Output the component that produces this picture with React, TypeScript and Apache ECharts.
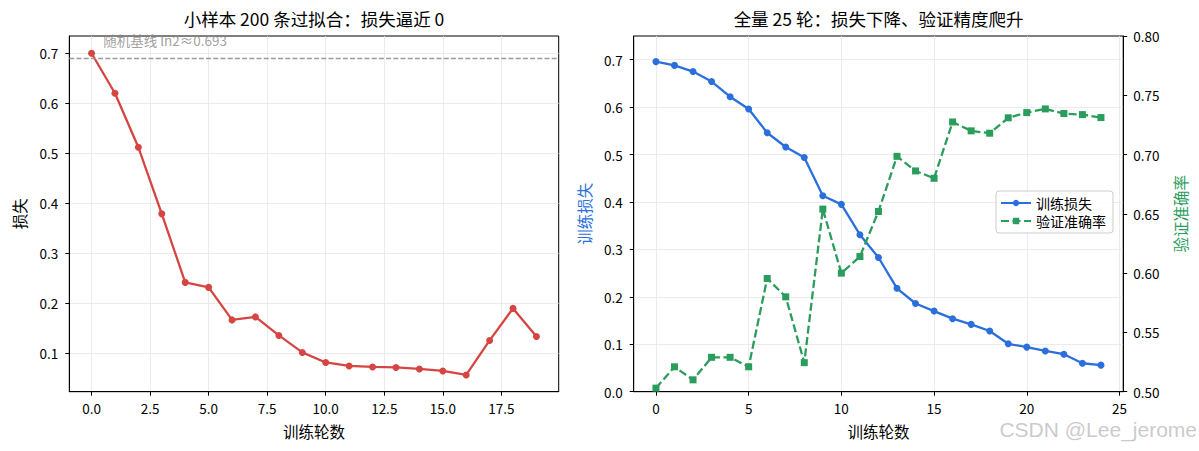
import React, { useEffect, useRef } from "react";
import * as echarts from "echarts";

// ---- data ----
const smallEpochs = [0, 1, 2, 3, 4, 5, 6, 7, 8, 9, 10, 11, 12, 13, 14, 15, 16, 17, 18, 19];
const smallLoss = [0.7, 0.62, 0.512, 0.379, 0.242, 0.232, 0.167, 0.173, 0.136, 0.102, 0.082, 0.075, 0.073, 0.072, 0.069, 0.065, 0.057, 0.126, 0.19, 0.134];
const baselineValue = 0.695;
const baselineLabel = "随机基线 ln2≈0.693";
const baselineLabelPos = [0.5, 0.726];

const fullEpochs = [0, 1, 2, 3, 4, 5, 6, 7, 8, 9, 10, 11, 12, 13, 14, 15, 16, 17, 18, 19, 20, 21, 22, 23, 24];
const trainLoss = [0.696, 0.688, 0.675, 0.654, 0.622, 0.596, 0.546, 0.516, 0.494, 0.413, 0.395, 0.331, 0.283, 0.218, 0.186, 0.17, 0.154, 0.142, 0.128, 0.101, 0.094, 0.086, 0.079, 0.06, 0.056];
const valAcc = [0.503, 0.521, 0.51, 0.529, 0.529, 0.521, 0.5955, 0.58, 0.5245, 0.654, 0.6, 0.614, 0.652, 0.6985, 0.6862, 0.68, 0.7275, 0.72, 0.718, 0.731, 0.7354, 0.7385, 0.7346, 0.7337, 0.7312];

const leftXTicks = [0, 2.5, 5, 7.5, 10, 12.5, 15, 17.5];
const leftYTicks = [0.1, 0.2, 0.3, 0.4, 0.5, 0.6, 0.7];
const rightXTicks = [0, 5, 10, 15, 20, 25];
const rightYTicks = [0, 0.1, 0.2, 0.3, 0.4, 0.5, 0.6, 0.7];
const accTicks = [0.5, 0.55, 0.6, 0.65, 0.7, 0.75, 0.8];

const titleLeft = "小样本 200 条过拟合：损失逼近 0";
const titleRight = "全量 25 轮：损失下降、验证精度爬升";
const xName = "训练轮数";
const lossName = "损失";
const trainLossName = "训练损失";
const valAccName = "验证准确率";
const watermark = "CSDN @Lee_jerome";

const FONT = "Noto Sans CJK SC";
const RED = "#d64541";
const BLUE = "#2a6fdb";
const GREEN = "#2a9d5c";
const GRID = "#e6e6e6";

function valueAxis(ticks: number[], min: number, max: number, decimals: number, margin: number) {
  return {
    type: "value",
    min,
    max,
    axisLine: { show: true, onZero: false, lineStyle: { color: "#000", width: 1 } },
    axisTick: { show: true, length: 4, customValues: ticks, lineStyle: { color: "#000", width: 1 } },
    axisLabel: {
      customValues: ticks,
      color: "#000",
      fontFamily: FONT,
      fontSize: 13.5,
      margin,
      formatter: (v: number) => v.toFixed(decimals),
    },
    splitLine: { show: true, lineStyle: { color: GRID, width: 0.8 } },
  };
}

const legendText = { fontFamily: FONT, fontSize: 14, color: "#000" };

export default function App() {
  const ref = useRef<HTMLDivElement>(null);
  useEffect(() => {
    document.body.style.margin = "0";
    if (!ref.current) return;
    const chart = echarts.init(ref.current, null, { renderer: "svg" });
    const option: any = {
      animation: false,
      backgroundColor: "#fff",
      textStyle: { fontFamily: FONT },
      title: [
        {
          text: titleLeft,
          left: 314,
          top: 10,
          padding: 0,
          textAlign: "center",
          textStyle: { fontFamily: FONT, fontSize: 17.5, fontWeight: "normal", color: "#000" },
        },
        {
          text: titleRight,
          left: 878.5,
          top: 10,
          padding: 0,
          textAlign: "center",
          textStyle: { fontFamily: FONT, fontSize: 17.5, fontWeight: "normal", color: "#000" },
        },
      ],
      grid: [
        { left: 69.3, top: 36, width: 489.4, height: 355.7, show: true, borderColor: "#000", borderWidth: 1, backgroundColor: "transparent" },
        { left: 633.7, top: 36, width: 489.5, height: 355.7, show: true, borderColor: "#000", borderWidth: 1, backgroundColor: "transparent" },
      ],
      xAxis: [
        {
          ...valueAxis(leftXTicks, -0.95, 19.95, 1, 10),
          gridIndex: 0,
          name: xName,
          nameLocation: "middle",
          nameGap: 32,
          nameTextStyle: { fontFamily: FONT, fontSize: 15.5, color: "#000" },
        },
        {
          ...valueAxis(rightXTicks, -1.2, 25.2, 0, 10),
          gridIndex: 1,
          name: xName,
          nameLocation: "middle",
          nameGap: 32,
          nameTextStyle: { fontFamily: FONT, fontSize: 15.5, color: "#000" },
        },
      ],
      yAxis: [
        {
          ...valueAxis(leftYTicks, 0.0235, 0.7345, 1, 11),
          gridIndex: 0,
          name: lossName,
          nameLocation: "middle",
          nameRotate: 90,
          nameGap: 43,
          nameTextStyle: { fontFamily: FONT, fontSize: 15.5, color: "#000" },
        },
        {
          ...valueAxis(rightYTicks, 0, 0.75, 1, 11),
          gridIndex: 1,
          name: trainLossName,
          nameLocation: "middle",
          nameRotate: 90,
          nameGap: 42,
          nameTextStyle: { fontFamily: FONT, fontSize: 15.5, color: BLUE },
        },
        {
          ...valueAxis(accTicks, 0.5, 0.8, 2, 10),
          gridIndex: 1,
          position: "right",
          name: valAccName,
          nameLocation: "middle",
          nameRotate: 90,
          nameGap: 49,
          nameTextStyle: { fontFamily: FONT, fontSize: 15.5, color: GREEN },
          splitLine: { show: false },
        },
      ],
      legend: {
        data: [
          { name: trainLossName, textStyle: legendText },
          { name: valAccName, textStyle: legendText },
        ],
        orient: "vertical",
        left: 996,
        top: 191,
        padding: [5, 7, 5, 4],
        itemGap: 4,
        itemWidth: 30,
        itemHeight: 8,
        backgroundColor: "rgba(255,255,255,0.85)",
        borderColor: "#cccccc",
        borderWidth: 1,
        borderRadius: 3,
        textStyle: legendText,
      },
      series: [
        {
          name: "small-loss",
          type: "line",
          xAxisIndex: 0,
          yAxisIndex: 0,
          data: smallEpochs.map((e, i) => [e, smallLoss[i]]),
          symbol: "circle",
          symbolSize: 7,
          itemStyle: { color: RED },
          lineStyle: { color: RED, width: 2.3 },
          z: 3,
          markLine: {
            silent: true,
            symbol: "none",
            label: { show: false },
            lineStyle: { color: "#9a9a9a", type: [5, 2.2], width: 1.3 },
            data: [{ yAxis: baselineValue }],
          },
        },
        {
          name: "baseline-label",
          type: "scatter",
          xAxisIndex: 0,
          yAxisIndex: 0,
          symbolSize: 0,
          silent: true,
          data: [baselineLabelPos],
          label: {
            show: true,
            position: "right",
            distance: 0,
            formatter: baselineLabel,
            color: "#888",
            fontFamily: FONT,
            fontSize: 13.5,
          },
        },
        {
          name: trainLossName,
          type: "line",
          xAxisIndex: 1,
          yAxisIndex: 1,
          data: fullEpochs.map((e, i) => [e, trainLoss[i]]),
          symbol: "circle",
          symbolSize: 7,
          itemStyle: { color: BLUE },
          lineStyle: { color: BLUE, width: 2.3 },
          z: 3,
        },
        {
          name: valAccName,
          type: "line",
          xAxisIndex: 1,
          yAxisIndex: 2,
          data: fullEpochs.map((e, i) => [e, valAcc[i]]),
          symbol: "rect",
          symbolSize: 7,
          itemStyle: { color: GREEN },
          lineStyle: { color: GREEN, width: 2.3, type: [8, 3.5] },
          z: 4,
        },
      ],
      graphic: [
        {
          type: "text",
          right: 2,
          top: 419,
          style: {
            text: watermark,
            fontFamily: "Liberation Sans",
            fontSize: 21,
            fill: "rgba(150,150,150,0.5)",
          },
          z: 100,
        },
      ],
    };
    chart.setOption(option);
    return () => chart.dispose();
  }, []);
  return (
    <div style={{ position: "absolute", left: 0, top: 0 }}>
      <div ref={ref} style={{ width: 1199, height: 451 }} />
    </div>
  );
}
